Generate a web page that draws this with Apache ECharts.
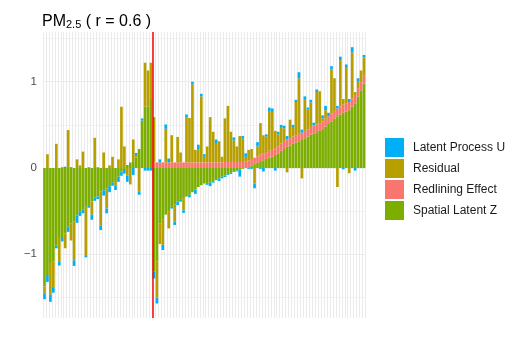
<!DOCTYPE html>
<html>
<head>
<meta charset="utf-8">
<script src="https://cdn.jsdelivr.net/npm/echarts@6/dist/echarts.min.js"></script>
<style>
  html, body { margin: 0; padding: 0; background: #fff; }
  #chart { width: 518px; height: 345px; }
</style>
</head>
<body>
<div id="chart"></div>
<script>
// bars sorted within two groups; red line splits them
var spatialZ = [
  -1.37, -1.24, -1.10, -1.08, -0.90, -0.81, -0.80, -0.76, -0.68, -0.64,
  -0.62, -0.55, -0.50, -0.48, -0.45, -0.43, -0.39, -0.34, -0.33, -0.27,
  -0.26, -0.24, -0.21, -0.165, -0.15, -0.10, -0.04, -0.01, 0.035, 0.06,
  0.07, 0.12, 0.22, 0.55, 0.71, 0.71, 0.80,
  -1.20, -1.08, -0.64, -0.59, -0.54, -0.50, -0.45, -0.42, -0.39, -0.37,
  -0.35, -0.33, -0.31, -0.28, -0.25, -0.22, -0.20, -0.18, -0.175, -0.17,
  -0.16, -0.14, -0.12, -0.10, -0.085, -0.07, -0.055, -0.045, -0.03, -0.02,
  -0.01, 0.0, 0.01, 0.03, 0.045, 0.06, 0.08, 0.09, 0.105, 0.12,
  0.13, 0.15, 0.17, 0.20, 0.22, 0.245, 0.26, 0.28, 0.295, 0.31,
  0.325, 0.345, 0.365, 0.385, 0.40, 0.415, 0.43, 0.45, 0.48, 0.51,
  0.54, 0.57, 0.60, 0.62, 0.64, 0.655, 0.67, 0.71, 0.75, 0.83,
  0.90, 0.98
];
var redlining = [
  0, 0, 0, 0, 0, 0, 0, 0, 0, 0,
  0, 0, 0, 0, 0, 0, 0, 0, 0, 0,
  0, 0, 0, 0, 0, 0, 0, 0, 0, 0,
  0, 0, 0, 0, 0, 0, 0,
  0.065, 0.065, 0.065, 0.065, 0.065, 0.065, 0.065, 0.065, 0.065, 0.065,
  0.065, 0.065, 0.065, 0.065, 0.065, 0.065, 0.065, 0.065, 0.065, 0.065,
  0.065, 0.065, 0.065, 0.065, 0.07, 0.07, 0.07, 0.07, 0.07, 0.07,
  0.07, 0.075, 0.075, 0.075, 0.075, 0.075, 0.075, 0.075, 0.08, 0.08,
  0.08, 0.08, 0.08, 0.085, 0.085, 0.085, 0.085, 0.085, 0.085, 0.085,
  0.085, 0.085, 0.085, 0.09, 0.09, 0.09, 0.09, 0.09, 0.09, 0.09,
  0.09, 0.09, 0.09, 0.095, 0.095, 0.095, 0.095, 0.095, 0.095, 0.095,
  0.095, 0.095
];
var residual = [
  -0.09, 0.16, -0.37, -0.30, 0.28, -0.27, 0.01, -0.17, 0.44, -0.20,
  -0.45, 0.10, 0.03, 0.19, -0.56, 0.01, -0.15, 0.35, 0.01, -0.40,
  0.18, -0.23, 0.03, 0.13, -0.05, 0.10, 0.71, 0.25, -0.09, -0.19,
  0.26, 0.02, -0.27, 0.0, 0.51, 0.42, 0.42,
  0.525, -0.42, -0.24, -0.30, 0.39, -0.20, 0.315, -0.20, 0.295, 0.115,
  -0.14, 0.525, 0.515, 0.905, 0.145, 0.155, 0.765, 0.065, 0.185, 0.525,
  0.355, 0.225, 0.245, 0.065, 0.505, 0.65, 0.35, 0.25, 0.18, 0.30,
  0.27, 0.055, 0.125, 0.115, -0.18, 0.115, 0.365, 0.215, 0.18, 0.46,
  0.44, 0.20, 0.14, 0.18, 0.155, -0.05, 0.215, 0.11, 0.385, 0.645,
  -0.12, 0.36, 0.23, 0.285, 0.005, 0.375, 0.37, 0.035, 0.10, 0.0,
  0.51, 0.38, -0.22, 0.535, 0.065, 0.41, -0.06, 0.535, 0.035, 0.075,
  0.135, 0.205
];
var latentU = [
  -0.06, -0.08, -0.08, -0.065, -0.03, -0.05, -0.05, 0.015, -0.06, 0.01,
  -0.065, -0.085, -0.055, -0.045, -0.025, -0.03, -0.06, -0.04, -0.03, -0.05,
  -0.06, -0.055, -0.07, -0.04, -0.055, -0.06, -0.05, -0.055, -0.07, 0.005,
  -0.08, 0.035, -0.04, 0.025, -0.03, -0.03, -0.03,
  -0.08, -0.07, 0.035, -0.06, 0.05, 0.045, -0.02, -0.04, -0.04, -0.02,
  -0.03, 0.03, -0.03, 0.03, -0.05, 0.05, 0.03, 0.03, -0.02, -0.04,
  -0.01, 0.04, -0.03, -0.02, -0.02, -0.01, -0.015, 0.035, -0.01, -0.08,
  0.03, 0.04, -0.01, -0.01, -0.055, 0.05, -0.01, -0.04, 0.025, 0.04,
  0.04, -0.03, 0.03, 0.035, 0.03, 0.04, 0.0, 0.025, 0.025, 0.07,
  0.035, 0.04, 0.02, 0.03, 0.03, 0.03, 0.0, 0.035, 0.05, 0.04,
  0.04, 0.0, 0.03, 0.04, -0.015, 0.04, 0.035, 0.06, -0.03, 0.04,
  0.0, 0.03
];
var categories = spatialZ.map(function (v, i) { return String(i + 1); });
var groupBoundary = 36.5;   // between the non-redlined and redlined groups
var yLabelTicks = [-1, 0, 1];
var yGridTicks = [-1.5, -1, -0.5, 0, 0.5, 1, 1.5];
var legendNames = ['Latent Process U', 'Residual', 'Redlining Effect', 'Spatial Latent Z'];

var chart = echarts.init(document.getElementById('chart'));
var font = 'Liberation Sans, Arial, Helvetica, sans-serif';

function barSeries(name, data, color) {
  return {
    name: name,
    type: 'bar',
    stack: 'total',
    data: data,
    barCategoryGap: '10%',
    itemStyle: { color: color },
    emphasis: { disabled: true }
  };
}

var option = {
  animation: false,
  backgroundColor: '#fff',
  title: {
    text: '{a|PM}{s|2.5}{a| ( r = 0.6 )}',
    left: 42,
    top: 8,
    padding: 0,
    textStyle: {
      fontFamily: font,
      fontWeight: 'normal',
      rich: {
        a: { fontFamily: font, fontWeight: 'normal', fontSize: 16, color: '#000', lineHeight: 22, verticalAlign: 'bottom' },
        s: { fontFamily: font, fontWeight: 'normal', fontSize: 11, color: '#000', lineHeight: 12, verticalAlign: 'bottom' }
      }
    }
  },
  legend: {
    data: legendNames,
    orient: 'vertical',
    left: 385,
    top: 138,
    padding: 0,
    itemWidth: 19,
    itemHeight: 19,
    itemGap: 2,
    icon: 'rect',
    selectedMode: false,
    textStyle: { fontFamily: font, fontSize: 12, color: '#1A1A1A', padding: [0, 0, 0, 4] }
  },
  grid: { left: 43, right: 152.5, top: 32, bottom: 27 },
  xAxis: [
    {
      type: 'category',
      data: categories,
      axisLine: { show: false },
      axisTick: { show: false },
      axisLabel: { show: false, interval: 0 },
      splitLine: { show: true, interval: 0, lineStyle: { color: '#EBEBEB', width: 1 } }
    },
    {
      type: 'value',
      show: false,
      min: -0.5,
      max: categories.length - 0.5,
      splitLine: { show: false }
    }
  ],
  yAxis: {
    type: 'value',
    min: -1.738,
    max: 1.576,
    axisLine: { show: false },
    axisTick: { show: false, customValues: yGridTicks },
    axisLabel: {
      customValues: yLabelTicks,
      fontFamily: font,
      fontSize: 11.5,
      color: '#4D4D4D',
      margin: 6,
      formatter: function (v) {
        return v < 0 ? '\u2212' + Math.abs(v) : String(v);
      }
    },
    splitLine: {
      show: true,
      lineStyle: { color: ['#F3F3F3', '#EBEBEB'], width: 1 }
    }
  },
  series: [
    barSeries('Spatial Latent Z', spatialZ, '#7CAE00'),
    barSeries('Redlining Effect', redlining, '#F8766D'),
    barSeries('Residual', residual, '#B79F00'),
    barSeries('Latent Process U', latentU, '#00B0F6'),
    {
      type: 'line',
      xAxisIndex: 1,
      data: [[groupBoundary, 0]],
      symbol: 'none',
      lineStyle: { opacity: 0 },
      z: 10,
      silent: true,
      markLine: {
        silent: true,
        symbol: ['none', 'none'],
        label: { show: false },
        lineStyle: { color: '#FF0000', width: 1.5, type: 'solid' },
        data: [{ xAxis: groupBoundary }]
      }
    }
  ]
};
chart.setOption(option);
</script>
</body>
</html>
